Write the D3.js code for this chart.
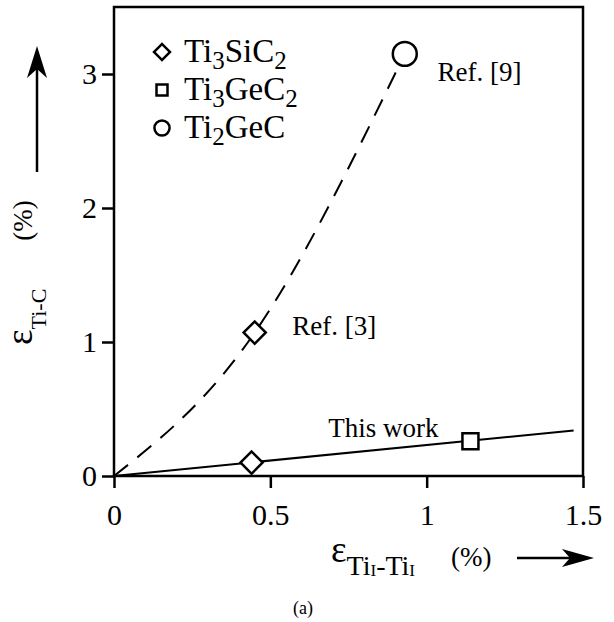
<!DOCTYPE html>
<html>
<head>
<meta charset="utf-8">
<script src="https://cdn.jsdelivr.net/npm/d3@7"></script>
<style>
  body { margin: 0; background: #fff; }
  svg, text, tspan { font-family: "Liberation Serif", "Times New Roman", serif; }
  text { fill: #000; }
</style>
</head>
<body>
<div id="chart"></div>
<script>
// values
const xTicks = [0, 0.5, 1, 1.5];
const xTickLabels = ["0", "0.5", "1", "1.5"];
const yTicks = [0, 1, 2, 3];

// "This work" fit line and points
const thisWorkLine = [[0, 0], [1.47, 0.34]];
const thisWorkPts = [
  { name: "Ti3SiC2", shape: "diamond", x: 0.44, y: 0.10 },
  { name: "Ti3GeC2", shape: "square", x: 1.14, y: 0.26 }
];
// literature points and dashed curve
const refCurve = [[0, 0], [0.45, 1.07], [0.93, 3.15]];
const refPts = [
  { name: "Ti3SiC2", shape: "diamond", x: 0.45, y: 1.07, label: "Ref. [3]" },
  { name: "Ti2GeC", shape: "circle", x: 0.93, y: 3.15, label: "Ref. [9]" }
];
const legendItems = [
  { shape: "diamond", parts: [["Ti", 0], ["3", 1], ["SiC", 0], ["2", 1]] },
  { shape: "square", parts: [["Ti", 0], ["3", 1], ["GeC", 0], ["2", 1]] },
  { shape: "circle", parts: [["Ti", 0], ["2", 1], ["GeC", 0]] }
];

const serif = "Liberation Serif";
const w = 614, h = 622;
const svg = d3.select("#chart").append("svg")
  .attr("width", w).attr("height", h)
  .attr("font-family", serif);

const x = d3.scaleLinear().domain([0, 1.5]).range([114, 583]);
const y = d3.scaleLinear().domain([0, 3.5]).range([476, 7]);

// axes (ticks outward)
const xAxis = d3.axisBottom(x).tickValues(xTicks)
  .tickFormat((d, i) => xTickLabels[i]).tickSize(12).tickPadding(16);
const yAxis = d3.axisLeft(y).tickValues(yTicks)
  .tickFormat(d3.format("d")).tickSize(12).tickPadding(5);

const gx = svg.append("g").attr("transform", "translate(0," + y(0) + ")").call(xAxis);
const gy = svg.append("g").attr("transform", "translate(" + x(0) + ",0)").call(yAxis);
[gx, gy].forEach(g => {
  g.attr("font-family", serif).attr("font-size", 30);
  g.select(".domain").remove();
  g.selectAll("line").attr("stroke", "#000").attr("stroke-width", 2.5);
  g.selectAll("text").attr("font-family", serif).attr("font-size", 30).attr("fill", "#000");
});

// frame
svg.append("rect")
  .attr("x", x(0)).attr("y", y(3.5))
  .attr("width", x(1.5) - x(0)).attr("height", y(0) - y(3.5))
  .attr("fill", "none").attr("stroke", "#000").attr("stroke-width", 2.5);

// lines
const line = d3.line().x(d => x(d[0])).y(d => y(d[1]));
svg.append("path").datum(thisWorkLine).attr("d", line)
  .attr("fill", "none").attr("stroke", "#000").attr("stroke-width", 2);
svg.append("path").datum(refCurve).attr("d", line.curve(d3.curveNatural))
  .attr("fill", "none").attr("stroke", "#000").attr("stroke-width", 2)
  .attr("stroke-dasharray", "18,12");

function marker(g, shape, size) {
  if (shape === "diamond") {
    g.append("path").attr("d", d3.symbol(d3.symbolSquare, size)())
      .attr("transform", "rotate(45)");
  } else if (shape === "square") {
    g.append("path").attr("d", d3.symbol(d3.symbolSquare, size)());
  } else {
    g.append("path").attr("d", d3.symbol(d3.symbolCircle, size)());
  }
  g.selectAll("path").attr("fill", "#fff").attr("stroke", "#000").attr("stroke-width", 2.5);
}
const sizes = { diamond: 245, square: 256, circle: 450 };

thisWorkPts.concat(refPts).forEach(p => {
  const g = svg.append("g").attr("transform", "translate(" + x(p.x) + "," + y(p.y) + ")");
  marker(g, p.shape, sizes[p.shape]);
});

// annotations
function label(tx, ty, s) {
  svg.append("text").attr("x", tx).attr("y", ty)
    .attr("font-family", serif).attr("font-size", 27).text(s);
}
label(x(0.57), y(1.05), "Ref. [3]");
label(x(1.035), y(2.95), "Ref. [9]");
label(x(0.685), y(0.29), "This work");

// legend
const legSizes = { diamond: 128, square: 121, circle: 180 };
legendItems.forEach((it, i) => {
  const cy = 52 + i * 38;
  const g = svg.append("g").attr("transform", "translate(162," + cy + ")");
  marker(g, it.shape, legSizes[it.shape]);
  const t = svg.append("text").attr("x", 184).attr("y", cy + 10)
    .attr("font-family", serif).attr("font-size", 33);
  let off = 0;
  it.parts.forEach(pt => {
    const target = pt[1] ? 7 : 0;
    t.append("tspan").text(pt[0])
      .attr("font-family", serif)
      .attr("font-size", pt[1] ? 25 : 33)
      .attr("dy", target - off);
    off = target;
  });
});

// y axis label (rotated)
const yl = svg.append("text")
  .attr("transform", "translate(32,345) rotate(-90)")
  .attr("font-family", serif).attr("font-size", 37);
yl.append("tspan").text("ε");
yl.append("tspan").attr("dy", 14).attr("font-size", 22).text("Ti-C");
yl.append("tspan").attr("dy", -14).attr("dx", 48).attr("font-size", 27).text("(%)");

// x axis label
const xl = svg.append("text").attr("x", 331).attr("y", 562)
  .attr("font-family", serif).attr("font-size", 37);
xl.append("tspan").text("ε");
xl.append("tspan").attr("dy", 13).attr("font-size", 28).text("Ti");
xl.append("tspan").attr("dy", 1).attr("font-size", 17).text("I");
xl.append("tspan").attr("dy", -1).attr("font-size", 28).text("-Ti");
xl.append("tspan").attr("dy", 1).attr("font-size", 17).text("I");
xl.append("tspan").attr("dy", -10).attr("dx", 36).attr("font-size", 27).text("(%)");

// arrows
svg.append("line").attr("x1", 37).attr("y1", 172).attr("x2", 37).attr("y2", 60)
  .attr("stroke", "#000").attr("stroke-width", 2.5);
svg.append("path").attr("d", "M37,46 L47,78 L37,69 L27,78 Z").attr("fill", "#000");
svg.append("line").attr("x1", 517).attr("y1", 558).attr("x2", 580).attr("y2", 558)
  .attr("stroke", "#000").attr("stroke-width", 2.5);
svg.append("path").attr("d", "M594,558 L562,549 L570,558 L562,567 Z").attr("fill", "#000");

// caption
svg.append("text").attr("x", 303).attr("y", 614).attr("text-anchor", "middle")
  .attr("font-family", serif).attr("font-size", 18).text("(a)");
</script>
</body>
</html>
